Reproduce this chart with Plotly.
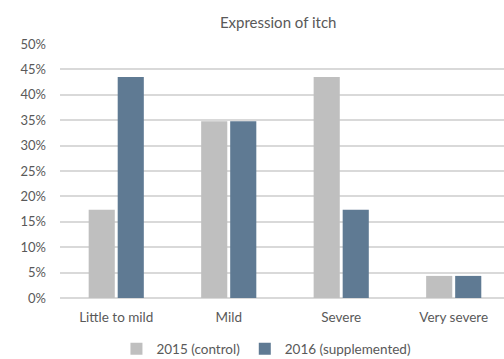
import plotly.graph_objects as go

categories = ["Little to mild", "Mild", "Severe", "Very severe"]
control_2015 = [17.39, 34.78, 43.48, 4.35]
supplemented_2016 = [43.48, 34.78, 17.39, 4.35]
tick_vals = [0, 5, 10, 15, 20, 25, 30, 35, 40, 45, 50]
tick_text = [f"{v}%" for v in tick_vals]

FONT = "Lato"
fig = go.Figure()
fig.add_trace(go.Bar(name="2015 (control)", x=categories, y=control_2015,
                     marker=dict(color="#BFBFBF", line=dict(width=0))))
fig.add_trace(go.Bar(name="2016 (supplemented)", x=categories, y=supplemented_2016,
                     marker=dict(color="#5F7A93", line=dict(width=0))))

fig.update_layout(
    width=504, height=359,
    margin=dict(l=60, r=0, t=44, b=61),
    paper_bgcolor="white", plot_bgcolor="white",
    barmode="group", bargap=0.484, bargroupgap=0.1,
    font=dict(family=FONT, size=13.5, color="#595959"),
    title=dict(text="Expression of itch", x=0.552, xanchor="center",
               y=1 - 23/359, yanchor="middle", font=dict(size=15, color="#595959")),
    showlegend=True,
    legend=dict(orientation="h", x=0.465, xanchor="center",
                yref="container", y=1 - 349/359, yanchor="middle",
                font=dict(size=13.5, color="#595959"), itemwidth=30,
                tracegroupgap=0, traceorder="normal"),
)
fig.update_xaxes(range=[-0.5, 3.447], showgrid=False, showline=False,
                 ticks="", ticklabelstandoff=9, tickfont=dict(size=13.5, color="#595959"))
fig.update_yaxes(range=[0, 50], tickvals=tick_vals, ticktext=tick_text,
                 showgrid=True, gridcolor="#D9D9D9", gridwidth=1.5,
                 zeroline=True, zerolinecolor="#D9D9D9", zerolinewidth=1.5,
                 showline=False, ticks="", ticklabelstandoff=13,
                 tickfont=dict(size=13, color="#595959"))
fig.write_html("out.html")
